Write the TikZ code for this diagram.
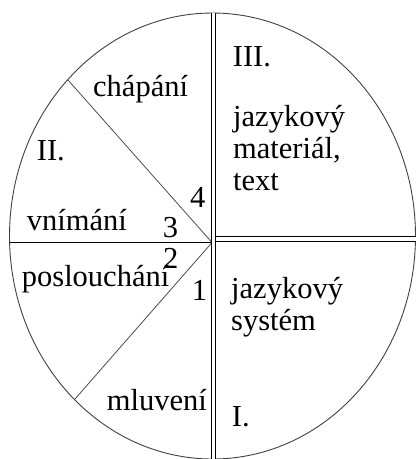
\documentclass[tikz,border=0pt]{standalone}
\usepackage{fontspec}
\setmainfont{Liberation Serif}
\tikzset{
    lbl/.style={font=\fontsize{30.5}{31.7}\selectfont, anchor=base west, inner sep=0pt, align=left},
    dbl/.style={double, double distance=3.4pt, line width=1pt, black},
}
\begin{document}
\begin{tikzpicture}[x=1pt, y=-1pt]
    \useasboundingbox (0,0) rectangle (417,459);
    \clip (0,0) rectangle (417,459);

    % --- outline ---
    \draw[line width=0.9pt, black!75] (212.5,236) ellipse [x radius=203, y radius=223];

    % --- dividing lines ---
    \coordinate (mid) at (212,242.5);
    \coordinate (top) at (213.4,13);
    \coordinate (bot) at (213.4,459);
    \coordinate (left) at (9.5,242.5);
    \coordinate (right) at (415.5,239);
    \coordinate (rstart) at (216,239);
    \coordinate (ul) at (68,80);
    \coordinate (ll) at (75,399);

    \draw[line width=0.8pt, black!70] (ul) -- (mid) -- (ll);
    \draw[line width=1pt] (left) -- (mid);
    \draw[dbl] (rstart) -- (right);
    \draw[dbl] (top) -- (bot);

    % --- quadrant III ---
    \node[lbl] (q3) at (232.7,66) {III.};
    \node[lbl] (mat) at (233,190) {jazykový\\materiál,\\text};

    % --- quadrant II ---
    \node[lbl] (chap) at (93,96) {chápání};
    \node[lbl] (q2) at (36.7,160) {II.};
    \node[lbl] (vnim) at (26.7,230) {vnímání};
    \node[lbl] (n4) at (190,207) {4};
    \node[lbl] (n3) at (162.7,237) {3};

    % --- quadrant I ---
    \node[lbl] (n2) at (163,268) {2};
    \node[lbl] (posl) at (21.7,286) {poslouchání};
    \node[lbl] (n1) at (191.7,300.7) {1};
    \node[lbl] (sys) at (231,330) {jazykový\\systém};
    \node[lbl] (mluv) at (106.7,410) {mluvení};
    \node[lbl] (q1) at (231.7,426.7) {I.};
\end{tikzpicture}
\end{document}
